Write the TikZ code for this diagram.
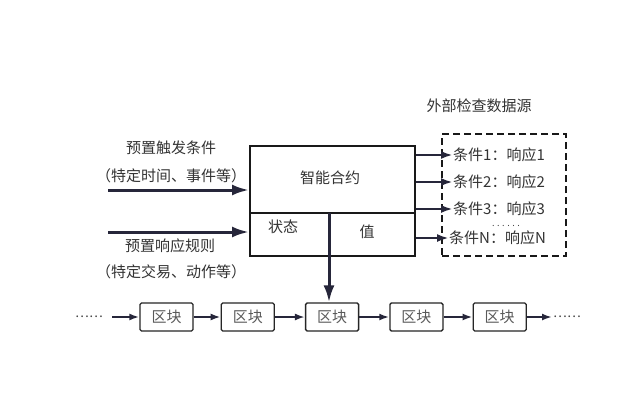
\documentclass[tikz,border=0pt]{standalone}
\usepackage{fontspec}
\setmainfont{Noto Sans CJK SC}
\usetikzlibrary{arrows.meta,positioning}
\definecolor{navy}{RGB}{38,38,58}

\begin{document}
\begin{tikzpicture}[x=1pt,y=-1pt,
  txt/.style={font=\fontsize{15}{17}\selectfont, text=black!80, inner sep=0pt},
  dots/.style={font=\fontsize{13}{14}\selectfont, text=black!75, inner sep=0pt},
  boxline/.style={draw=black!90, line width=2pt},
  blk/.style={draw=black!85, line width=1.3pt, rounded corners=1.5pt,
    minimum width=53pt, minimum height=28pt, inner sep=0pt, txt, text=black!65},
  inarrow/.style={draw=navy, line width=3pt, -{Latex[length=17pt,width=11pt]}},
  outarrow/.style={draw=navy, line width=2.5pt, -{Latex[length=12pt,width=8pt]}},
  chainarrow/.style={draw=navy, line width=2pt, -{Latex[length=10pt,width=7pt]}}]
  \useasboundingbox[fill=white] (0,0) rectangle (640,413);

  % smart contract box
  \node[boxline, minimum width=165pt, minimum height=110pt, inner sep=0pt] (sc) at (332.5,201) {};
  \coordinate (split) at (329,213);
  \draw[boxline] (sc.west |- split) -- (sc.east |- split);
  \node[txt] (name) at (330,178) {智能合约};
  \node[txt] (state) at (283,227) {状态};
  \node[txt] (value) at (367,232) {值};

  % inputs
  \coordinate (in1) at (108,190);
  \coordinate (in2) at (108,232);
  \draw[inarrow] (in1) -- (in1 -| sc.west);
  \draw[inarrow] (in2) -- (in2 -| sc.west);
  \node[txt] (trig) at (171,148) {预置触发条件};
  \node[txt] (trignote) at (171,176) {（特定时间、事件等）};
  \node[txt] (rule) at (170,246) {预置响应规则};
  \node[txt] (rulenote) at (171,272) {（特定交易、动作等）};

  % external data source
  \node[draw=black!90, line width=1.6pt, dash pattern=on 7pt off 4pt,
    minimum width=124pt, minimum height=122pt] (ext) at (504,195) {};
  \node[txt] (exttitle) at (479,106) {外部检查数据源};
  \node[txt, anchor=west] (c1) at (453,155) {条件1：响应1};
  \node[txt, anchor=west] (c2) at (453,182) {条件2：响应2};
  \node[txt, anchor=west] (c3) at (453,209) {条件3：响应3};
  \node[txt, anchor=west] (cn) at (449,238) {条件N：响应N};
  \node[dots, font=\fontsize{9}{10}\selectfont, anchor=base]
    (cdots) at (506,226) {.\hspace{2.5pt}.\hspace{2.5pt}.\hspace{2.5pt}.\hspace{2.5pt}.\hspace{2.5pt}.};
  \foreach \c in {c1,c2,c3,cn}
    \draw[outarrow] (\c.west -| sc.east) -- (\c.west);

  % block chain
  \node[blk] (b1) at (166.5,317) {区块};
  \node[blk, right=27pt of b1] (b2) {区块};
  \node[blk, right=30pt of b2] (b3) {区块};
  \node[blk, right=30pt of b3] (b4) {区块};
  \node[blk, right=29pt of b4] (b5) {区块};
  \foreach \a/\b in {b1/b2,b2/b3,b3/b4,b4/b5}
    \draw[chainarrow] (\a) -- (\b);
  \node[dots] (ldots) at (89,317) {……};
  \node[dots] (rdots) at (567,317) {……};
  \coordinate (lend) at (112,317);
  \coordinate (rend) at (552,317);
  \draw[chainarrow] (lend) -- (b1);
  \draw[chainarrow] (b5) -- (rend);

  \draw[inarrow] (split) -- (split |- b3.north);
\end{tikzpicture}
\end{document}
